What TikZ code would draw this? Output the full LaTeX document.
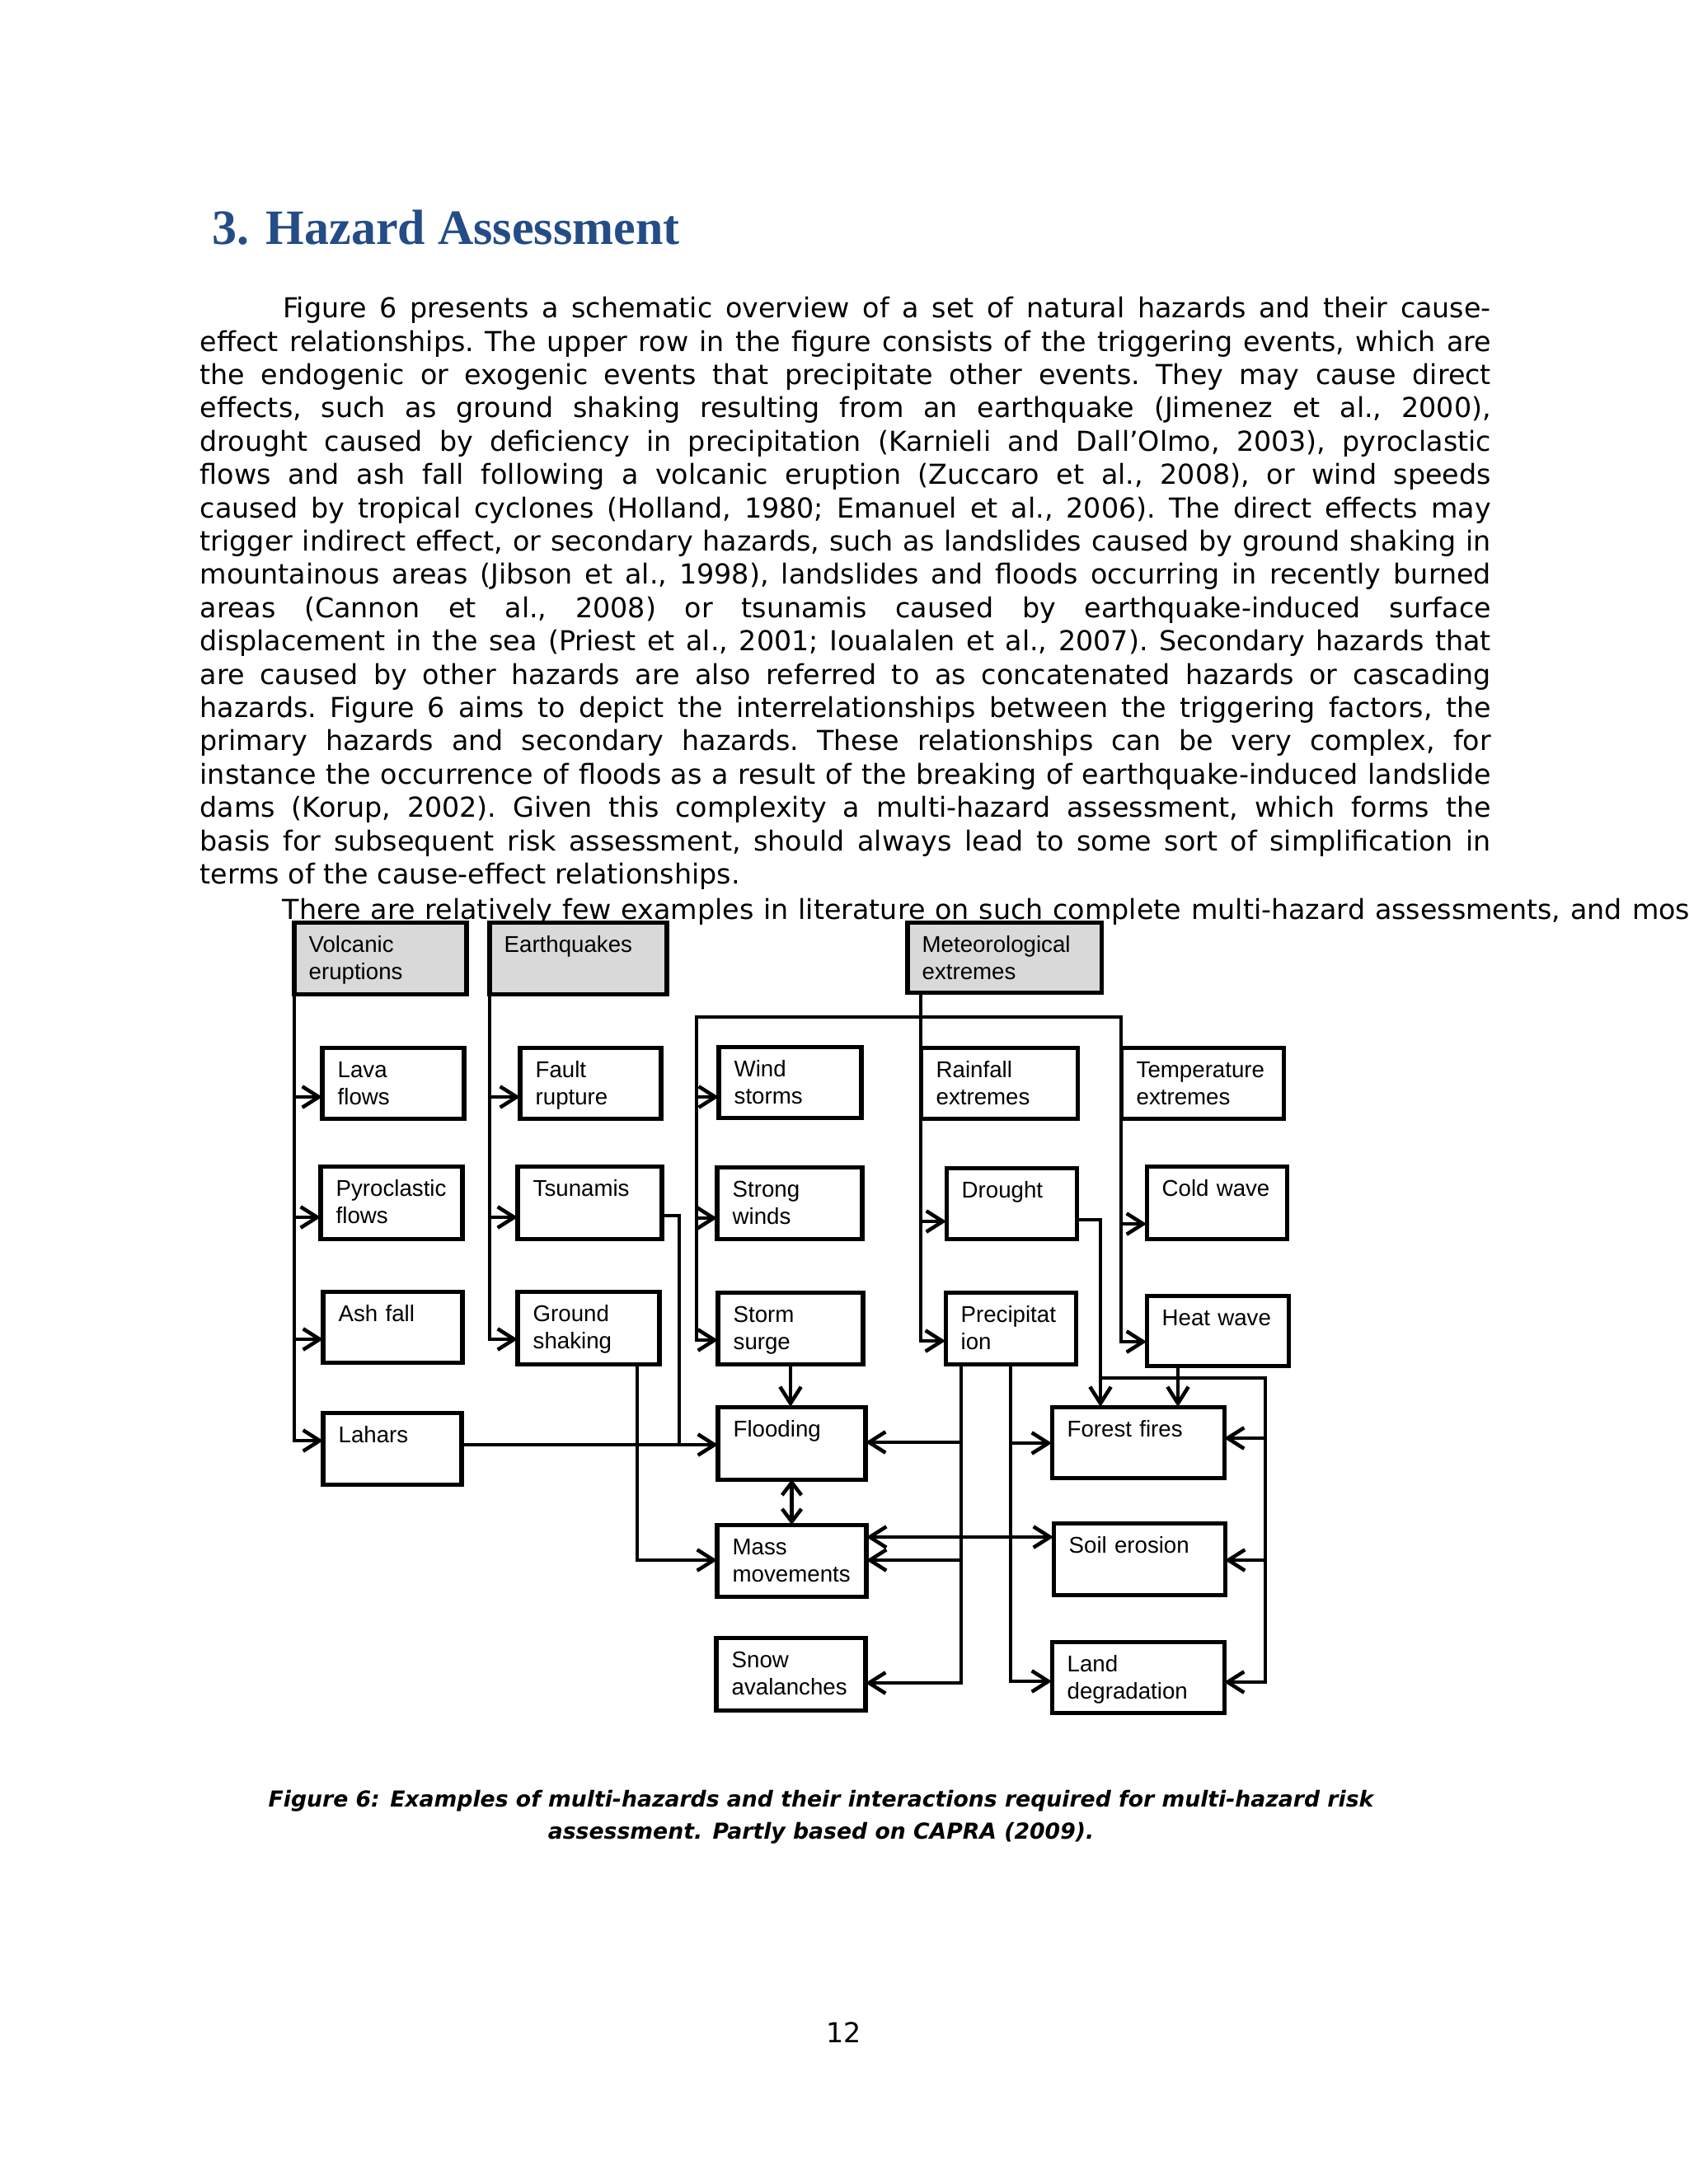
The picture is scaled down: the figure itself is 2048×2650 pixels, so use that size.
\documentclass[tikz,border=0pt]{standalone}
\usepackage{fontspec}
\setmainfont{DejaVu Sans}
\newfontfamily\arialfont{Liberation Sans}
\newfontfamily\timesfont{Liberation Serif}
\usetikzlibrary{arrows.meta}
\definecolor{titleblue}{RGB}{36,76,135}
\definecolor{boxgrey}{RGB}{217,217,217}
\newlength{\pxu}
\setlength{\pxu}{0.298828bp}

\begin{document}
\begin{tikzpicture}[x=0.298828bp, y=-0.298828bp,
  hzbox/.style={draw, line width=1.5bp, anchor=north west, inner sep=0pt, outer sep=0pt},
  hztxt/.style={anchor=north west, inner sep=0pt, text width=62bp, align=left,
    font=\arialfont\fontsize{8.3}{10}\selectfont},
  hzline/.style={line width=1.35bp, line cap=rect},
  hzarrow/.style={hzline, -{Straight Barb[length=6bp,width=7.6bp]}},
  hzboth/.style={hzline, {Straight Barb[length=6bp,width=7.6bp]}-{Straight Barb[length=6bp,width=7.6bp]}},
  hzshort/.style={hzline, {Straight Barb[length=4.6bp,width=7bp]}-{Straight Barb[length=4.6bp,width=7bp]}},
  bodypar/.style={anchor=north west, inner sep=0pt, text width=468bp, align=justify,
    font=\fontsize{10}{12.12}\selectfont},
  ]
\useasboundingbox (0,0) rectangle (2048,2650);
\fill[white] (0,0) rectangle (2048,2650);

% triggering events
\foreach \n/\x/\y/\w/\h/\t in {volc/357/1119/209/87/{Volcanic\\eruptions},
    earth/594/1119/215/87/{Earthquakes},
    met/1101/1119/235/85/{Meteorological\\extremes}}
{
  \node[hzbox, fill=boxgrey, minimum width=\w*\pxu, minimum height=\h*\pxu] (\n) at (\x,\y) {};
  \node[hztxt] (\n-t) at ([shift={(17,12)}]\n.north west) {\strut\t};
}

% hazards
\foreach \n/\x/\y/\w/\h/\t in {lava/391/1271/172/86/{Lava\\flows},
    fault/631/1271/171/86/{Fault\\rupture},
    wind/872/1270/173/86/{Wind\\storms},
    rain/1117/1271/190/86/{Rainfall\\extremes},
    temp/1360/1271/197/86/{Temperature\\extremes},
    pyro/389/1415/172/88/{Pyroclastic\\flows},
    tsu/628/1415/175/88/{Tsunamis},
    strong/870/1416/176/87/{Strong\\winds},
    drought/1148/1417/158/86/{Drought},
    cold/1391/1415/170/88/{Cold wave},
    ash/392/1567/169/86/{Ash fall},
    ground/628/1567/172/88/{Ground\\shaking},
    surge/871/1568/176/87/{Storm\\surge},
    precip/1147/1568/158/87/{Precipitat\\ion},
    heat/1391/1572/172/85/{Heat wave},
    lahars/392/1714/168/87/{Lahars},
    flood/871/1707/179/88/{Flooding},
    forest/1276/1707/209/86/{Forest fires},
    mass/870/1850/181/87/{Mass\\movements},
    soil/1278/1848/208/87/{Soil erosion},
    snow/869/1987/181/88/{Snow\\avalanches},
    land/1276/1992/209/86/{Land\\degradation}}
{
  \node[hzbox, minimum width=\w*\pxu, minimum height=\h*\pxu] (\n) at (\x,\y) {};
  \node[hztxt] (\n-t) at ([shift={(18,12)}]\n.north west) {\strut\t};
}

% volcanic and earthquake columns
\draw[hzarrow] (volc.south west) |- (lahars.west |- 0,1748);
\foreach \n/\y in {lava/1331,pyro/1477,ash/1625}
  \draw[hzarrow] (volc.south west |- 0,\y) -- (\n.west |- 0,\y);
\draw[hzarrow] (earth.south west) |- (ground.west |- 0,1625);
\foreach \n/\y in {fault/1331,tsu/1477}
  \draw[hzarrow] (earth.south west |- 0,\y) -- (\n.west |- 0,\y);

% meteorological columns
\coordinate (mbus) at (rain.west |- met.south);
\coordinate (wbus) at (845,1234);
\draw[hzarrow] (mbus) |- (precip.west |- 0,1627);
\draw[hzarrow] (mbus |- 0,1482) -- (drought.west |- 0,1482);
\draw[hzboth] (surge.west |- 0,1626) -| (wbus) -| (temp.west) |- (heat.west |- 0,1628);
\foreach \n/\y in {wind/1331,strong/1478}
  \draw[hzarrow] (wbus |- 0,\y) -- (\n.west |- 0,\y);
\draw[hzarrow] (temp.west |- 0,1485) -- (cold.west |- 0,1485);

% secondary hazards
\coordinate (tjoin) at (824,1753);
\draw[hzline] (tsu.east |- 0,1475) -| (tjoin);
\draw[hzarrow] (lahars.east |- tjoin) -- (flood.west |- tjoin);
\draw[hzarrow] (ground.south -| 773,0) |- (mass.west |- 0,1893);
\draw[hzarrow] (surge.south) -- (surge.south |- flood.north);
\draw[hzshort] (flood.south) -- (flood.south |- mass.north);

\coordinate (pleft) at (precip.south -| 1166,0);
\coordinate (pright) at (precip.south -| 1226,0);
\draw[hzarrow] (pleft) |- (snow.east |- 0,2042);
\foreach \n/\y in {flood/1750,mass/1893}
  \draw[hzarrow] (pleft |- 0,\y) -- (\n.east |- 0,\y);
\draw[hzarrow] (pright) |- (land.west |- 0,2040);
\draw[hzarrow] (pright |- 0,1751) -- (forest.west |- 0,1751);
\draw[hzboth] (mass.east |- 0,1865) -- (soil.west |- 0,1865);

\coordinate (rbus) at (1335,1672);
\coordinate (rcorner) at (1535,2041);
\draw[hzarrow] (drought.east |- 0,1480) -| (forest.north -| rbus);
\draw[hzarrow] (heat.south -| 1429,0) -- (forest.north -| 1429,0);
\draw[hzarrow] (rbus) -| (rcorner) -- (land.east |- rcorner);
\foreach \n/\y in {forest/1745,soil/1893}
  \draw[hzarrow] (rcorner |- 0,\y) -- (\n.east |- 0,\y);

% page text
\node[anchor=base west, inner sep=0pt, text=titleblue,
  font=\timesfont\bfseries\fontsize{18}{22}\selectfont] (title) at (257,296) {3. Hazard Assessment};

\node[bodypar] (para) at (242,356.7) {\frenchspacing\spaceskip=3.18pt plus 4pt minus 1.3pt
  \hyphenpenalty=10000 \exhyphenpenalty=10000 \pretolerance=-1 \tolerance=9999
  \strut\hspace*{30bp}Figure 6 presents a schematic overview of a set of natural hazards and their cause-\linebreak
  effect relationships. The upper row in the figure consists of the triggering events, which are\linebreak
  the endogenic or exogenic events that precipitate other events. They may cause direct\linebreak
  effects, such as ground shaking resulting from an earthquake (Jimenez et al., 2000),\linebreak
  drought caused by deficiency in precipitation (Karnieli and Dall’Olmo, 2003), pyroclastic\linebreak
  flows and ash fall following a volcanic eruption (Zuccaro et al., 2008), or wind speeds\linebreak
  caused by tropical cyclones (Holland, 1980; Emanuel et al., 2006). The direct effects may\linebreak
  trigger indirect effect, or secondary hazards, such as landslides caused by ground shaking in\linebreak
  mountainous areas (Jibson et al., 1998), landslides and floods occurring in recently burned\linebreak
  areas (Cannon et al., 2008) or tsunamis caused by earthquake-induced surface\linebreak
  displacement in the sea (Priest et al., 2001; Ioualalen et al., 2007). Secondary hazards that\linebreak
  are caused by other hazards are also referred to as concatenated hazards or cascading\linebreak
  hazards. Figure 6 aims to depict the interrelationships between the triggering factors, the\linebreak
  primary hazards and secondary hazards. These relationships can be very complex, for\linebreak
  instance the occurrence of floods as a result of the breaking of earthquake-induced landslide\linebreak
  dams (Korup, 2002). Given this complexity a multi-hazard assessment, which forms the\linebreak
  basis for subsequent risk assessment, should always lead to some sort of simplification in\linebreak
  terms of the cause-effect relationships.};
\node[anchor=base west, inner sep=0pt, font=\fontsize{10}{12.12}\selectfont] (nextline) at (342,1115)
  {\spaceskip=3.55pt There are relatively few examples in literature on such complete multi-hazard assessments, and mos};

\node[anchor=base, inner sep=0pt, font=\fontsize{8}{10}\selectfont\bfseries\itshape] (cap1) at (996,2192)
  {Figure 6: Examples of multi-hazards and their interactions required for multi-hazard risk};
\node[anchor=base, inner sep=0pt, font=\fontsize{8}{10}\selectfont\bfseries\itshape] (cap2) at (996,2231)
  {assessment. Partly based on CAPRA (2009).};

\node[anchor=base, inner sep=0pt, font=\fontsize{10}{12}\selectfont] (pageno) at (1024,2478) {12};
\end{tikzpicture}
\end{document}
